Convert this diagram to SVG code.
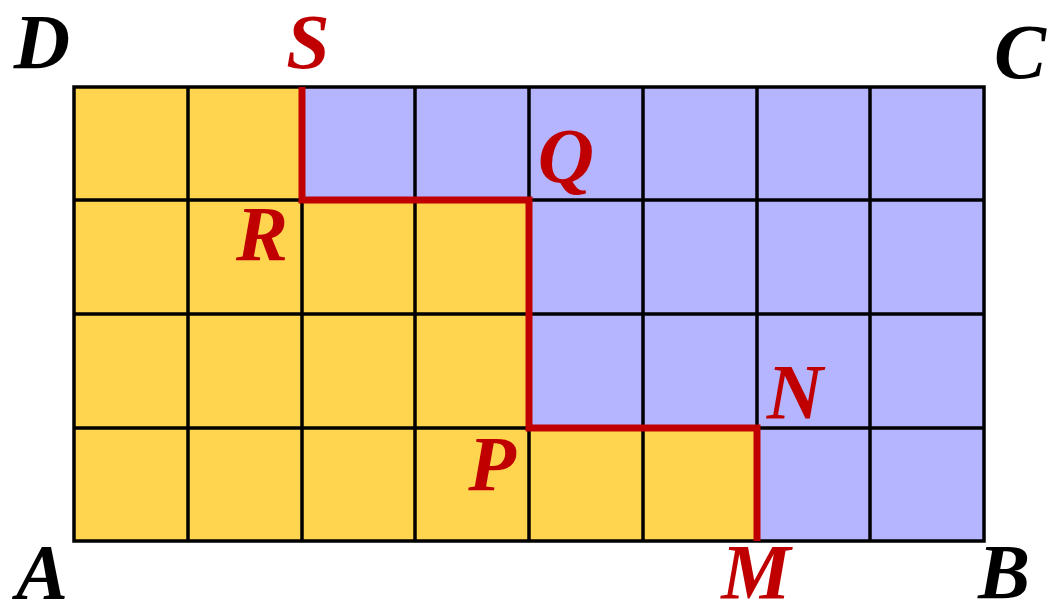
<svg xmlns="http://www.w3.org/2000/svg" width="1047" height="608" viewBox="0 0 1047 608">
<style>
.y{fill:#FFD54F}
.b{fill:#B4B4FF}
.g{stroke:#000;stroke-width:3.5;fill:none}
.p{stroke:#C00000;stroke-width:7;fill:none;stroke-linejoin:miter}
.lbl{font-family:"Liberation Serif","DejaVu Serif",serif;font-weight:bold;font-style:italic;font-size:78px;text-anchor:middle}
.k{fill:#000}
.r{fill:#C00000}
</style>
<rect x="0" y="0" width="1047" height="608" fill="#fff"/>
<g id="regions">
<polygon class="b" points="74,87 984,87 984,541 757,541 757,428 529,428 529,200 302,200 302,87"/>
<polygon class="y" points="74,87 302,87 302,200 529,200 529,428 757,428 757,541 74,541"/>
</g>
<g id="grid" class="g">
<path d="M188,87V541M302,87V541M415,87V541M529,87V541M643,87V541M757,87V541M870,87V541M74,200H984M74,314H984M74,428H984"/>
<rect x="74" y="87" width="910" height="454"/>
</g>
<g id="connectors">
<path class="p" d="M302,87V200H529V428H757V541"/>
</g>
<g id="labels">
<text id="D" class="lbl k" x="42" y="68">D</text>
<text id="C" class="lbl k" x="1020" y="78">C</text>
<text id="A" class="lbl k" x="42" y="598">A</text>
<text id="B" class="lbl k" x="1004" y="598">B</text>
<text id="S" class="lbl r" x="308" y="68">S</text>
<text id="Q" class="lbl r" x="566" y="182">Q</text>
<text id="R" class="lbl r" x="262" y="260">R</text>
<text id="N" class="lbl r" x="795" y="418">N</text>
<text id="P" class="lbl r" x="492" y="490">P</text>
<text id="M" class="lbl r" x="756" y="598">M</text>
</g>
</svg>
